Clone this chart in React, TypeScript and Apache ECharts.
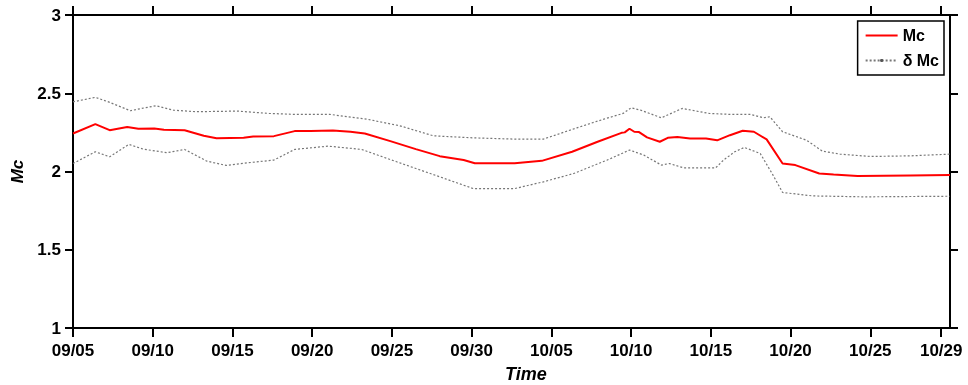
import React, { useEffect, useRef } from "react";
import * as echarts from "echarts";

// x values are days since 09/05
const tickDays = [0, 5, 10, 15, 20, 25, 30, 35, 40, 45, 50, 54.45];
const tickLabels = ["09/05", "09/10", "09/15", "09/20", "09/25", "09/30", "10/05", "10/10", "10/15", "10/20", "10/25", "10/29"];

const mcDays = [0, 1.4, 2.3, 3.4, 4.1, 5.1, 5.7, 7.0, 8.2, 9.0, 10.7, 11.3, 12.6, 13.9, 14.9, 16.3, 17.4, 18.3, 19.9, 21.5, 23.0, 24.5, 25.2, 27.7, 29.4, 31.3, 32.9, 34.4, 34.6, 34.9, 35.2, 35.5, 36.0, 36.8, 37.3, 37.9, 38.7, 39.7, 40.4, 41.2, 42.0, 42.7, 43.5, 44.5, 45.3, 46.8, 47.7, 49.2, 52.5, 55.0];
const mcValues = [2.243, 2.303, 2.264, 2.284, 2.273, 2.275, 2.267, 2.264, 2.228, 2.213, 2.215, 2.224, 2.226, 2.258, 2.258, 2.262, 2.254, 2.243, 2.194, 2.143, 2.098, 2.073, 2.053, 2.053, 2.068, 2.126, 2.19, 2.247, 2.25, 2.273, 2.254, 2.252, 2.218, 2.19, 2.215, 2.22, 2.211, 2.211, 2.199, 2.232, 2.26, 2.254, 2.205, 2.051, 2.041, 1.987, 1.981, 1.972, 1.975, 1.977];

const upperDays = [0, 1.4, 2.3, 3.6, 4.3, 5.2, 6.3, 7.7, 10.3, 12.3, 13.9, 16.1, 18.4, 20.5, 22.6, 25.1, 27.7, 29.5, 31.6, 33.3, 34.5, 35.0, 35.6, 36.9, 38.2, 39.9, 41.2, 42.5, 43.3, 43.7, 44.5, 46.0, 47.0, 48.1, 50.0, 52.5, 55.0];
const upperValues = [2.445, 2.474, 2.442, 2.388, 2.403, 2.42, 2.392, 2.382, 2.386, 2.371, 2.365, 2.365, 2.335, 2.292, 2.228, 2.215, 2.207, 2.207, 2.279, 2.335, 2.371, 2.407, 2.392, 2.343, 2.403, 2.371, 2.365, 2.365, 2.343, 2.35, 2.254, 2.2, 2.13, 2.111, 2.096, 2.1, 2.111];

const lowerDays = [0, 1.4, 2.3, 3.5, 4.4, 5.9, 7.0, 8.4, 9.6, 10.9, 12.6, 13.9, 16.0, 18.1, 20.3, 23.0, 25.1, 27.7, 29.5, 31.4, 33.5, 34.9, 35.8, 36.9, 37.4, 38.3, 40.3, 40.8, 41.5, 42.1, 43.1, 43.9, 44.5, 46.4, 49.6, 55.0];
const lowerValues = [2.051, 2.126, 2.094, 2.173, 2.143, 2.12, 2.141, 2.066, 2.039, 2.055, 2.073, 2.141, 2.162, 2.141, 2.062, 1.966, 1.891, 1.891, 1.934, 1.987, 2.073, 2.137, 2.105, 2.041, 2.051, 2.023, 2.023, 2.073, 2.126, 2.154, 2.115, 1.977, 1.866, 1.844, 1.838, 1.842];

const FONT = "'Liberation Sans', Arial, sans-serif";

export default function App() {
  const ref = useRef<HTMLDivElement>(null);
  useEffect(() => {
    document.body.style.margin = "0";
    const chart = echarts.init(ref.current!, null, { renderer: "svg" });
    const labelFmt = (v: number) => {
      const i = tickDays.findIndex((t) => Math.abs(t - v) < 1e-6);
      return i >= 0 ? tickLabels[i] : "";
    };
    const axisLine = { show: true, onZero: false, lineStyle: { color: "#000", width: 2 } };
    const xCommon = {
      type: "value" as const,
      min: 0,
      max: 55,
      splitLine: { show: false },
      axisLine,
      axisTick: { show: true, inside: false, length: 9, customValues: tickDays, lineStyle: { color: "#000", width: 2 } },
    };
    const yCommon = {
      type: "value" as const,
      min: 1,
      max: 3,
      interval: 0.5,
      splitLine: { show: false },
      axisLine,
      axisTick: { show: true, inside: false, length: 8, lineStyle: { color: "#000", width: 2 } },
    };
    chart.setOption({
      animation: false,
      grid: { left: 73, right: 18, top: 15, bottom: 57, containLabel: false, outerBoundsMode: "none" },
      legend: {
        orient: "vertical",
        right: 24,
        top: 21,
        padding: [6, 5, 6, 7],
        itemGap: 8,
        itemWidth: 32,
        itemHeight: 4,
        borderColor: "#000",
        borderWidth: 1.5,
        backgroundColor: "#fff",
        textStyle: { fontFamily: FONT, fontWeight: "bold", fontSize: 16, color: "#000", lineHeight: 17 },
        data: [{ name: "Mc", itemStyle: { opacity: 0 } }, { name: "δ Mc" }],
      },
      xAxis: [
        {
          ...xCommon,
          position: "bottom",
          axisLabel: {
            show: true,
            customValues: tickDays,
            formatter: labelFmt,
            margin: 14,
            fontFamily: FONT,
            fontWeight: "bold",
            fontSize: 17,
            color: "#000",
          },
        },
        {
          ...xCommon,
          position: "top",
          axisLabel: { show: false },
        },
      ],
      yAxis: [
        {
          ...yCommon,
          position: "left",
          name: "Mc",
          nameLocation: "middle",
          nameGap: 42,
          nameRotate: 90,
          nameTextStyle: { fontFamily: FONT, fontWeight: "bold", fontStyle: "italic", fontSize: 17, color: "#000" },
          axisLabel: { show: true, margin: 12, fontFamily: FONT, fontWeight: "bold", fontSize: 17, color: "#000" },
        },
        {
          ...yCommon,
          position: "right",
          axisLabel: { show: false },
        },
      ],
      graphic: [
        {
          type: "text",
          left: 505,
          top: 365,
          style: { text: "Time", fontFamily: FONT, fontWeight: "bold", fontStyle: "italic", fontSize: 18, fill: "#000" },
        },
      ],
      series: [
        {
          name: "δ Mc",
          type: "line",
          xAxisIndex: 0,
          yAxisIndex: 0,
          data: upperDays.map((d, i) => [d, upperValues[i]]),
          symbol: "circle",
          symbolSize: 3,
          showSymbol: false,
          itemStyle: { color: "#555" },
          lineStyle: { color: "#777", width: 1.2, type: [2, 2] },
          z: 2,
        },
        {
          name: "δ Mc",
          type: "line",
          xAxisIndex: 0,
          yAxisIndex: 0,
          data: lowerDays.map((d, i) => [d, lowerValues[i]]),
          symbol: "circle",
          symbolSize: 3,
          showSymbol: false,
          itemStyle: { color: "#555" },
          lineStyle: { color: "#777", width: 1.2, type: [2, 2] },
          z: 2,
        },
        {
          name: "Mc",
          type: "line",
          xAxisIndex: 0,
          yAxisIndex: 0,
          data: mcDays.map((d, i) => [d, mcValues[i]]),
          symbol: "none",
          itemStyle: { color: "#ff0000" },
          lineStyle: { color: "#ff0000", width: 2 },
          z: 3,
        },
      ],
    });
    return () => chart.dispose();
  }, []);
  return <div ref={ref} style={{ position: "fixed", left: 0, top: 0, width: 968, height: 385 }} />;
}
